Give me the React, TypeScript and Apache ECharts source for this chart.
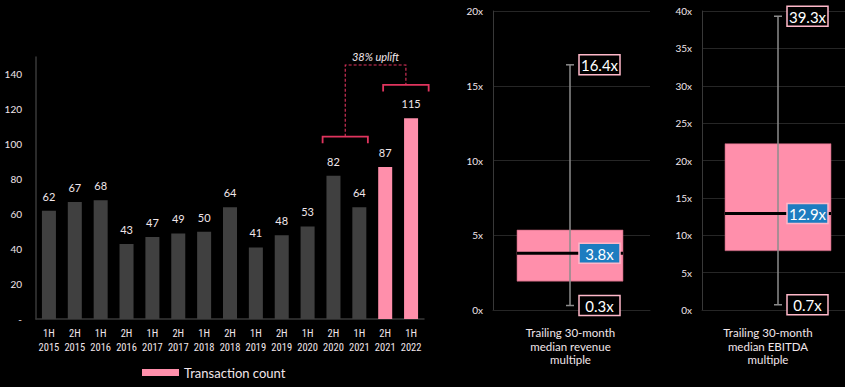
import React, { useEffect, useRef } from 'react';
import * as echarts from 'echarts';

// ---------- data ----------
const periods = [
  '1H\n2015', '2H\n2015', '1H\n2016', '2H\n2016', '1H\n2017', '2H\n2017', '1H\n2018', '2H\n2018',
  '1H\n2019', '2H\n2019', '1H\n2020', '2H\n2020', '1H\n2021', '2H\n2021', '1H\n2022',
];
const transactionCounts = [62, 67, 68, 43, 47, 49, 50, 64, 41, 48, 53, 82, 64, 87, 115];
const highlightFromIndex = 13; // bars from here are highlighted

const barAxisMax = 150;
const barAxisInterval = 20;

// uplift annotation: compared periods and bracket heights (data units)
const upliftText = '38% uplift';
const bracketAPeriods = [11, 12];
const bracketBPeriods = [13, 14];
const bracketALevel = 104.4;
const bracketBLevel = 134;
const dashTopLevel = 145.4;

const revenueCategory = ['Trailing 30-month\nmedian revenue\nmultiple'];
// [min, q1, median, q3, max]
const revenueStats = [0.3, 1.93, 3.8, 5.35, 16.4];
const revenueTicks = { min: 0, max: 20, interval: 5 };

const ebitdaCategory = ['Trailing 30-month\nmedian EBITDA\nmultiple'];
const ebitdaStats = [0.7, 7.93, 12.9, 22.25, 39.3];
const ebitdaTicks = { min: 0, max: 40, interval: 5 };

// ---------- styles ----------
const FONT = 'Lato, "Open Sans", sans-serif';
const NARROW = '"Roboto Condensed", "DejaVu Sans Condensed", sans-serif';
const TEXT = '#f1e6ea';
const GREY_BAR = '#404040';
const PINK = '#ff8fab';
const PINK_BORDER = '#ffb8c9';
const BRACKET = '#e0345e';
const AXIS = '#383838';
const GRID = '#262626';
const BLUE = '#1d7cc0';

function makeBoxRenderItem(shift: number) {
  return function boxRenderItem(params: any, api: any) {
    const vals = [1, 2, 3, 4, 5].map((d) => api.value(d));
    const [mn, q1, med, q3, mx] = vals;
    const cx = api.coord([api.value(0), 0])[0] + shift;
    const y = (v: number) => api.coord([api.value(0), v])[1];
    const boxW = 106;
    const labW = 41;
    const labH = 20;
    const labX = cx + 9;
    const fmt = (v: number) => v.toFixed(1) + 'x';
    const label = (v: number, bg: string) => [
      {
        type: 'rect',
        shape: { x: labX, y: y(v) - labH / 2, width: labW, height: labH },
        style: { fill: bg, stroke: PINK_BORDER, lineWidth: 1.5 },
      },
      {
        type: 'text',
        x: labX + labW / 2,
        y: y(v) + 0.5,
        style: {
          text: fmt(v),
          fill: '#ffffff',
          font: `15px ${FONT}`,
          align: 'center',
          verticalAlign: 'middle',
        },
      },
    ];
    return {
      type: 'group',
      children: [
        {
          type: 'rect',
          shape: { x: cx - boxW / 2, y: y(q3), width: boxW, height: y(q1) - y(q3) },
          style: { fill: PINK, stroke: '#b85a72', lineWidth: 0.6 },
        },
        {
          type: 'line',
          shape: { x1: cx, y1: y(mx), x2: cx, y2: y(mn) },
          style: { stroke: '#8c8c8c', lineWidth: 1.5 },
        },
        {
          type: 'line',
          shape: { x1: cx - 4, y1: y(mx), x2: cx + 4, y2: y(mx) },
          style: { stroke: '#8c8c8c', lineWidth: 1.5 },
        },
        {
          type: 'line',
          shape: { x1: cx - 4, y1: y(mn), x2: cx + 4, y2: y(mn) },
          style: { stroke: '#8c8c8c', lineWidth: 1.5 },
        },
        {
          type: 'line',
          shape: { x1: cx - boxW / 2, y1: y(med), x2: cx + boxW / 2, y2: y(med) },
          style: { stroke: '#000', lineWidth: 3 },
        },
        ...label(mx, '#000'),
        ...label(med, BLUE),
        ...label(mn, '#000'),
      ],
    };
  };
}

function annotationRenderItem(params: any, api: any) {
  const band = api.size([1, 0])[0];
  const aL = api.coord([bracketAPeriods[0], bracketALevel]);
  const aR = api.coord([bracketAPeriods[1], bracketALevel]);
  const bL = api.coord([bracketBPeriods[0], bracketBLevel]);
  const bR = api.coord([bracketBPeriods[1], bracketBLevel]);
  const top = api.coord([0, dashTopLevel])[1];
  const ax1 = aL[0] - band * 0.42;
  const ax2 = aR[0] + band * 0.33;
  const bx1 = bL[0] - band * 0.08;
  const bx2 = bR[0] + band * 0.68;
  const ay = aL[1];
  const by = bL[1];
  const tick = 6.5;
  const midA = (ax1 + ax2) / 2;
  const midB = (bx1 + bx2) / 2;
  return {
    type: 'group',
    children: [
      {
        type: 'polyline',
        shape: { points: [[ax1, ay + tick], [ax1, ay], [ax2, ay], [ax2, ay + tick]] },
        style: { stroke: BRACKET, lineWidth: 1.8, fill: null },
      },
      {
        type: 'polyline',
        shape: { points: [[bx1, by + tick], [bx1, by], [bx2, by], [bx2, by + tick]] },
        style: { stroke: BRACKET, lineWidth: 1.8, fill: null },
      },
      {
        type: 'polyline',
        shape: { points: [[midA, ay], [midA, top], [midB, top], [midB, by]] },
        style: { stroke: BRACKET, lineWidth: 1.1, lineDash: [3, 2], fill: null },
      },
      {
        type: 'text',
        x: (midA + midB) / 2,
        y: top - 9,
        style: {
          text: upliftText,
          fill: TEXT,
          font: `italic 11px ${FONT}`,
          align: 'center',
          verticalAlign: 'middle',
        },
      },
    ],
  };
}

export default function App() {
  const ref = useRef<HTMLDivElement>(null);

  useEffect(() => {
    if (!ref.current) return;
    const chart = echarts.init(ref.current, null, { renderer: 'svg' });

    const boxYAxis = (t: { min: number; max: number; interval: number }, gridIndex: number) => ({
      type: 'value',
      gridIndex,
      min: t.min,
      max: t.max,
      interval: t.interval,
      axisLine: { show: true, lineStyle: { color: AXIS, width: 1 } },
      axisTick: { show: false },
      splitLine: { show: true, lineStyle: { color: GRID, width: 1 } },
      axisLabel: { color: TEXT, fontSize: 10, fontFamily: FONT, margin: 10, formatter: '{value}x' },
    });
    const boxXAxis = (cats: string[], gridIndex: number, pad: number[]) => ({
      type: 'category',
      gridIndex,
      data: cats,
      axisLine: { show: true, lineStyle: { color: GRID } },
      axisTick: { show: false },
      axisLabel: {
        color: TEXT,
        fontSize: 11.5,
        lineHeight: 13.5,
        fontFamily: FONT,
        margin: 16,
        padding: pad,
      },
    });

    chart.setOption({
      animation: false,
      backgroundColor: '#000',
      textStyle: { fontFamily: FONT },
      legend: {
        left: 142,
        top: 366,
        padding: 0,
        itemWidth: 37,
        itemHeight: 7,
        itemGap: 10,
        icon: 'rect',
        textStyle: { color: TEXT, fontSize: 13, fontFamily: FONT },
        data: ['Transaction count'],
      },
      grid: [
        { left: 36, right: 421, top: 57, bottom: 68 },
        { left: 493, right: 195, top: 11, bottom: 77 },
        { left: 702, right: 0, top: 11, bottom: 77 },
      ],
      xAxis: [
        {
          type: 'category',
          gridIndex: 0,
          data: periods,
          axisLine: { show: true, lineStyle: { color: AXIS, width: 1.5 } },
          axisTick: { show: false },
          axisLabel: { color: TEXT, fontSize: 10.5, lineHeight: 13.5, fontFamily: NARROW, margin: 8, interval: 0 },
        },
        boxXAxis(revenueCategory, 1, [0, 2, 0, 0]),
        boxXAxis(ebitdaCategory, 2, [0, 11, 0, 0]),
      ],
      yAxis: [
        {
          type: 'value',
          gridIndex: 0,
          min: 0,
          max: barAxisMax,
          interval: barAxisInterval,
          splitLine: { show: false },
          axisLine: { show: true, lineStyle: { color: AXIS, width: 1.5 } },
          axisTick: { show: false },
          axisLabel: {
            color: TEXT,
            fontSize: 10,
            fontFamily: FONT,
            margin: 14,
            showMaxLabel: false,
            formatter: (v: number) => (v === 0 ? '-' : String(v)),
          },
        },
        boxYAxis(revenueTicks, 1),
        boxYAxis(ebitdaTicks, 2),
      ],
      series: [
        {
          name: 'Transaction count',
          type: 'bar',
          xAxisIndex: 0,
          yAxisIndex: 0,
          barWidth: 14,
          itemStyle: { color: PINK },
          data: transactionCounts.map((v, i) => ({
            value: v,
            itemStyle: { color: i >= highlightFromIndex ? PINK : GREY_BAR },
          })),
          label: {
            show: true,
            position: 'top',
            distance: 9,
            color: TEXT,
            fontSize: 11,
            fontFamily: FONT,
          },
        },
        {
          name: 'annotation',
          type: 'custom',
          xAxisIndex: 0,
          yAxisIndex: 0,
          renderItem: annotationRenderItem,
          data: [[0, 0]],
          silent: true,
        },
        {
          name: 'revenue',
          type: 'custom',
          xAxisIndex: 1,
          yAxisIndex: 1,
          renderItem: makeBoxRenderItem(-1.5),
          encode: { x: 0, y: [1, 2, 3, 4, 5] },
          data: [[0, ...revenueStats]],
        },
        {
          name: 'ebitda',
          type: 'custom',
          xAxisIndex: 2,
          yAxisIndex: 2,
          renderItem: makeBoxRenderItem(4.5),
          encode: { x: 0, y: [1, 2, 3, 4, 5] },
          data: [[0, ...ebitdaStats]],
        },
      ],
    });

    return () => chart.dispose();
  }, []);

  return (
    <div
      ref={ref}
      style={{ position: 'absolute', left: 0, top: 0, width: 845, height: 387, background: '#000' }}
    />
  );
}
